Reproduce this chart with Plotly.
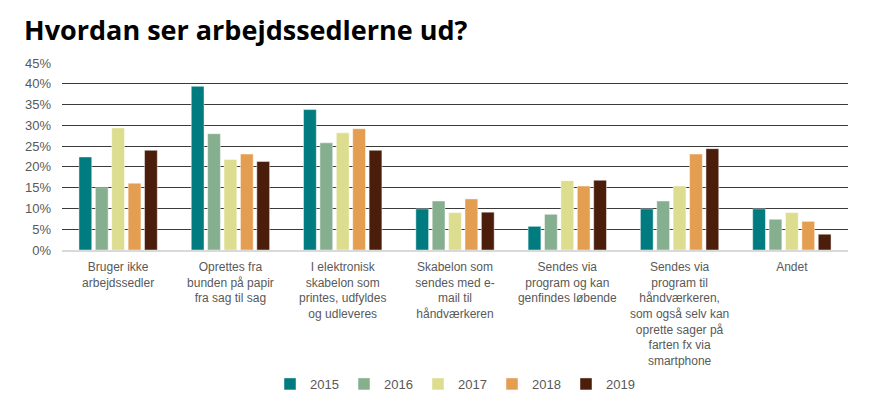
import plotly.graph_objects as go

categories = [
    "Bruger ikke<br>arbejdssedler",
    "Oprettes fra<br>bunden på papir<br>fra sag til sag",
    "I elektronisk<br>skabelon som<br>printes, udfyldes<br>og udleveres",
    "Skabelon som<br>sendes med e-<br>mail til<br>håndværkeren",
    "Sendes via<br>program og kan<br>genfindes løbende",
    "Sendes via<br>program til<br>håndværkeren,<br>som også selv kan<br>oprette sager på<br>farten fx via<br>smartphone",
    "Andet",
]
years = ["2015", "2016", "2017", "2018", "2019"]
v2015 = [0.224, 0.394, 0.338, 0.099, 0.057, 0.099, 0.099]
v2016 = [0.150, 0.280, 0.258, 0.118, 0.086, 0.118, 0.074]
v2017 = [0.294, 0.218, 0.282, 0.090, 0.167, 0.154, 0.090]
v2018 = [0.161, 0.231, 0.292, 0.123, 0.154, 0.231, 0.069]
v2019 = [0.240, 0.213, 0.240, 0.091, 0.168, 0.244, 0.038]
colors = ["#007C80", "#86AF8F", "#DDDD8F", "#E49E52", "#4B1E0C"]

series = [v2015, v2016, v2017, v2018, v2019]

fig = go.Figure()
for name, vals, col in zip(years, series, colors):
    fig.add_trace(go.Bar(
        x=categories, y=vals, name=name,
        marker=dict(color=col, line=dict(color="rgba(255,255,255,0.45)", width=1)),
    ))

fig.update_layout(
    width=873, height=409,
    margin=dict(l=62, r=25, t=63, b=159),
    paper_bgcolor="white", plot_bgcolor="white",
    barmode="group", bargap=0.27, bargroupgap=0.22,
    font=dict(family="Liberation Sans, Arial", size=12, color="#595959"),
    title=dict(
        text="<b>Hvordan ser arbejdssedlerne ud?</b>",
        font=dict(family="Open Sans, Noto Sans", size=27, color="#000000"),
        x=24/873, xref="container", xanchor="left",
        y=1 - 31/409, yref="container", yanchor="middle",
    ),
    yaxis=dict(
        range=[0, 0.4502], dtick=0.05, tickformat=".0%",
        showgrid=True, gridcolor="#3a3a3a", gridwidth=1,
        zeroline=False, showline=False, ticks="",
        ticklabelstandoff=10, automargin=False,
        tickfont=dict(size=13, color="#595959"),
    ),
    xaxis=dict(
        showline=True, linecolor="#D9D9D9", linewidth=1.5,
        ticks="", tickangle=0, automargin=False,
        ticklabelstandoff=5,
        tickfont=dict(size=12, color="#595959"),
    ),
    legend=dict(
        orientation="h", x=0.5, xanchor="center",
        y=1 - 384/409, yref="container", yanchor="middle",
        font=dict(size=13, color="#595959"),
        itemwidth=30, entrywidth=29,
    ),
)

fig.write_html("out.html", config={"displayModeBar": False},
               post_script="document.body.style.margin='0';")
